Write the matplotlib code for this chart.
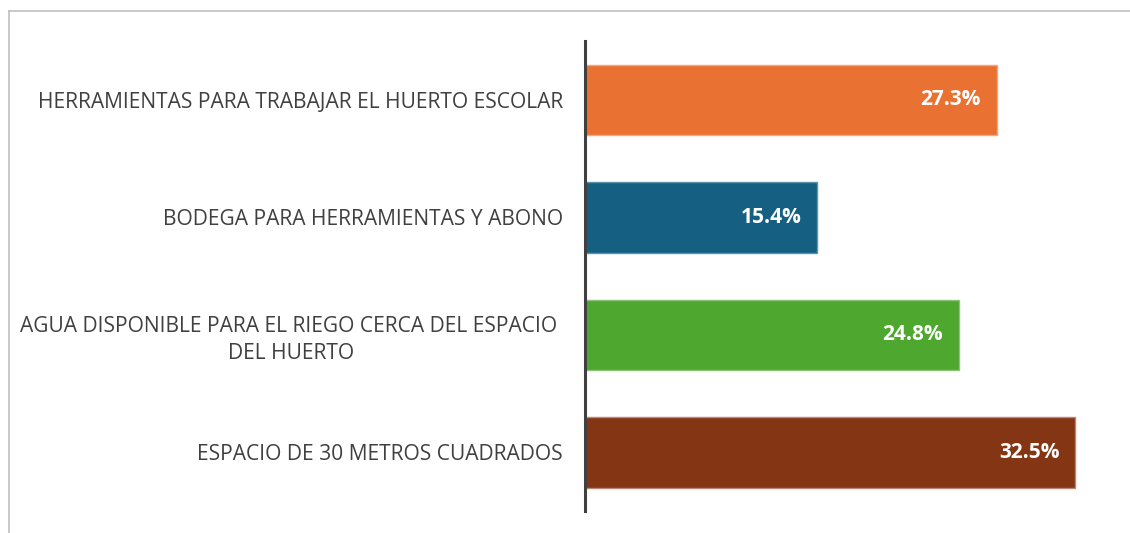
import matplotlib.pyplot as plt
from matplotlib.lines import Line2D

categories = [
    "HERRAMIENTAS PARA TRABAJAR EL HUERTO ESCOLAR",
    "BODEGA PARA HERRAMIENTAS Y ABONO",
    "AGUA DISPONIBLE PARA EL RIEGO CERCA DEL ESPACIO \nDEL HUERTO",
    "ESPACIO DE 30 METROS CUADRADOS",
]
values = [27.3, 15.4, 24.8, 32.5]
colors = ["#E97132", "#156082", "#4EA72E", "#843513"]
edges = ["#F2A683", "#5E93AC", "#8AC474", "#B9877A"]

plt.rcParams["font.family"] = ["Open Sans", "DejaVu Sans"]

fig = plt.figure(figsize=(11.3, 5.33), dpi=100)
ax = fig.add_axes([585 / 1130, 1 - 511 / 533, 535 / 1130, 470 / 533])

ypos = list(range(len(values)))
ax.barh(ypos, values, height=0.6, color=colors, edgecolor=edges, linewidth=1.0)
ax.set_ylim(len(values) - 0.5, -0.5)
ax.set_xlim(0, 35.45)

for y, v in zip(ypos, values):
    ax.text(v - 1.07, y, f"{v:.1f}%", ha="right", va="center",
            color="white", fontsize=15, fontweight="bold")

ax.set_yticks(ypos)
ax.set_yticklabels(categories, fontsize=15.1, color="#404040",
                   multialignment="center", linespacing=1.35)
ax.tick_params(axis="y", length=0, pad=16)
ax.set_xticks([])
for s in ["top", "right", "bottom"]:
    ax.spines[s].set_visible(False)
ax.spines["left"].set_color("#404040")
ax.spines["left"].set_linewidth(2.2)

# outer chart frame (top and left edges visible)
fig.add_artist(Line2D([9 / 1130, 1.0], [1 - 11 / 533, 1 - 11 / 533],
                      transform=fig.transFigure, color="#BFBFBF", lw=1.2))
fig.add_artist(Line2D([9 / 1130, 9 / 1130], [0.0, 1 - 11 / 533],
                      transform=fig.transFigure, color="#BFBFBF", lw=1.2))

fig.savefig("out.png", dpi=100)
